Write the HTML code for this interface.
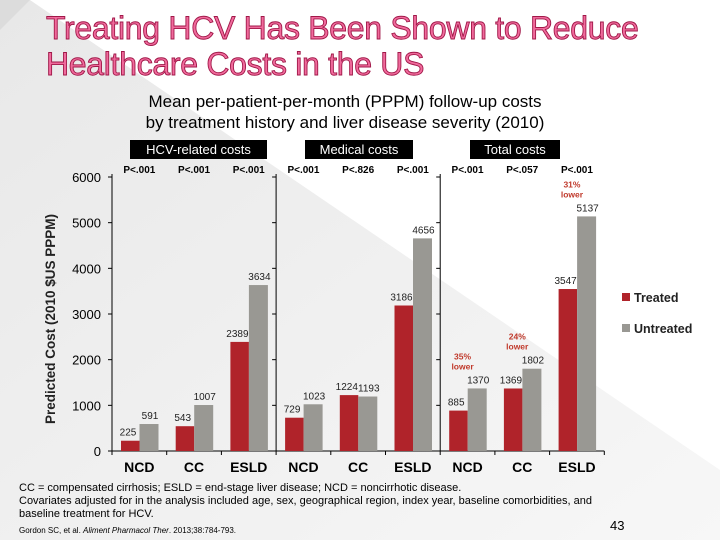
<!DOCTYPE html>
<html><head><meta charset="utf-8"><style>
body{margin:0;width:720px;height:540px;overflow:hidden;font-family:"Liberation Sans",sans-serif;background:#fff;position:relative}
.t{position:absolute;white-space:nowrap}
</style></head><body>
<svg width="720" height="540" style="position:absolute;left:0;top:0">
<defs><linearGradient id="g" x1="0" y1="0" x2="1" y2="1"><stop offset="0" stop-color="#e8e8e8"/><stop offset="1" stop-color="#f7f7f7"/></linearGradient></defs>
<polygon points="0,0 30,0 720,470 720,540 0,540" fill="url(#g)"/>
<polygon points="0,0 30,0 0,30" fill="#dcdcdc"/>
</svg>
<div class="t" style="left:46px;top:10px;font-size:32px;line-height:36px;color:#f06a9c;-webkit-text-stroke:0.9px #a01848;letter-spacing:-0.3px">Treating HCV Has Been Shown to Reduce<br>Healthcare Costs in the US</div>
<div class="t" style="left:90px;top:91px;width:510px;text-align:center;font-size:17px;line-height:21px;color:#000">Mean per-patient-per-month (PPPM) follow-up costs<br>by treatment history and liver disease severity (2010)</div>
<svg id="chart" width="720" height="540" style="position:absolute;left:0;top:0;font-family:'Liberation Sans',sans-serif"></svg>
<div class="t" style="left:19px;top:482px;font-size:11px;line-height:13px">CC = compensated cirrhosis; ESLD = end-stage liver disease; NCD = noncirrhotic disease.<br>Covariates adjusted for in the analysis included age, sex, geographical region, index year, baseline comorbidities, and<br>baseline treatment for HCV.</div>
<div class="t" style="left:19px;top:526px;font-size:8px">Gordon SC, et al. <i>Aliment Pharmacol Ther</i>. 2013;38:784-793.</div>
<div class="t" style="left:610px;top:518px;font-size:13px">43</div>
<script>
const panels=["HCV-related costs","Medical costs","Total costs"];
const categories=["NCD","CC","ESLD","NCD","CC","ESLD","NCD","CC","ESLD"];
const treated=[225,543,2389,729,1224,3186,885,1369,3547];
const untreated=[591,1007,3634,1023,1193,4656,1370,1802,5137];
const pvalues=["P<.001","P<.001","P<.001","P<.001","P<.826","P<.001","P<.001","P<.057","P<.001"];
const yTicks=[0,1000,2000,3000,4000,5000,6000];
const notes=[{i:6,t:["35%","lower"]},{i:7,t:["24%","lower"]},{i:8,t:["31%","lower"]}];
const svg=document.getElementById('chart');const NS="http://www.w3.org/2000/svg";
function mk(tag,a,txt){const e=document.createElementNS(NS,tag);for(const k in a)e.setAttribute(k,a[k]);if(txt!=null)e.textContent=txt;svg.appendChild(e);return e;}
const x0=112,gw=54.7,y0=451,yMax=6000,yTop=177;
const y=v=>y0-(v/yMax)*(y0-yTop);
const hdr=[[130,137],[305,108],[470,90]];
panels.forEach((p,i)=>{
const r=mk('rect',{x:hdr[i][0],y:140,width:hdr[i][1],height:19,fill:'#000'});

const t=mk('text',{x:hdr[i][0]+hdr[i][1]/2,y:154,'text-anchor':'middle','font-size':13,fill:'#fff'},p);

});
for(let p=0;p<3;p++){const ax=x0+p*3*gw;
const l=mk('line',{x1:ax,y1:y(6000)-3,x2:ax,y2:y0,stroke:'#000','stroke-width':1});

yTicks.forEach(v=>{mk('line',{x1:ax-4,y1:y(v),x2:ax,y2:y(v),stroke:'#000'});});}
const xl=mk('line',{x1:x0,y1:y0,x2:x0+9*gw,y2:y0,stroke:'#000'});

for(let i=0;i<=9;i++)mk('line',{x1:x0+i*gw,y1:y0,x2:x0+i*gw,y2:y0+4,stroke:'#000'});
yTicks.forEach(v=>{const t=mk('text',{x:x0-11,y:y(v)+5,'text-anchor':'end','font-size':13},v);
});
const yt=mk('text',{x:0,y:0,transform:`translate(55,${(y0+yTop)/2+5}) rotate(-90)`,'text-anchor':'middle','font-size':13.5,'font-weight':'bold',fill:'#222'},'Predicted Cost (2010 $US PPPM)');

categories.forEach((c,i)=>{const gl=x0+i*gw;
const b1=mk('rect',{x:gl+9,y:y(treated[i]),width:18.5,height:y0-y(treated[i]),fill:'#b0232a'});

const b2=mk('rect',{x:gl+27.5,y:y(untreated[i]),width:19,height:y0-y(untreated[i]),fill:'#999893'});

const l1=mk('text',{x:gl+16,y:y(treated[i])-5,'text-anchor':'middle','font-size':10,fill:'#222'},treated[i]);

const l2=mk('text',{x:gl+38,y:y(untreated[i])-5,'text-anchor':'middle','font-size':10,fill:'#222'},untreated[i]);

const cl=mk('text',{x:gl+gw/2,y:472,'text-anchor':'middle','font-size':14,'font-weight':'bold'},c);

const pv=mk('text',{x:gl+gw/2,y:173,'text-anchor':'middle','font-size':10,'font-weight':'bold'},pvalues[i]);

});
notes.forEach(n=>{const gl=x0+n.i*gw;const top=Math.max(treated[n.i],untreated[n.i]);
n.t.forEach((s,k)=>{const t=mk('text',{x:gl+gw/2-5,y:y(top)-29+k*10,'text-anchor':'middle','font-size':8.5,'font-weight':'bold',fill:'#c0392b'},s);
});});
const lg=[["Treated","#b0232a",297],["Untreated","#999893",328]];
lg.forEach(l=>{const r=mk('rect',{x:622,y:l[2]-4,width:8,height:8,fill:l[1]});

const t=mk('text',{x:634,y:l[2]+5,'font-size':12.5,'font-weight':'bold',fill:'#222'},l[0]);
});
</script>
</body></html>
